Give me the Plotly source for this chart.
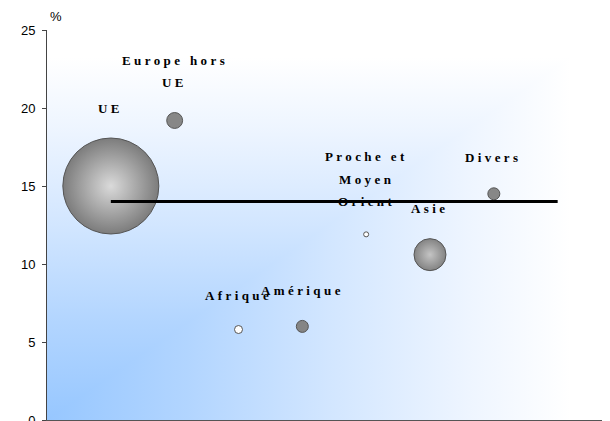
import base64
import plotly.graph_objects as go

# ---- data ----
categories = ["UE", "Europe hors UE", "Afrique", "Amérique",
              "Proche et Moyen Orient", "Asie", "Divers"]
label_text = ["UE", "Europe hors<br>UE", "Afrique", "Amérique",
              "Proche et<br>Moyen<br>Orient", "Asie", "Divers"]
growth = [15.0, 19.2, 5.8, 6.0, 11.9, 10.6, 14.5]      # % (y axis)
weight = [62.0, 1.7, 0.43, 0.97, 0.17, 6.9, 0.97]      # bubble size
average = 14.0                                          # horizontal line
y_ticks = [0, 5, 10, 15, 20, 25]

# ---- styles ----
fill_col = ["#7c7c7c", "#878787", "#ffffff", "#858585", "#ffffff", "#838383", "#878787"]
grad_type = ["radial", "none", "none", "none", "none", "radial", "none"]
grad_col = ["#dadada", "#878787", "#ffffff", "#858585", "#ffffff", "#c4c4c4", "#878787"]

x_pos = list(range(1, len(categories) + 1))
line_x = [1, len(categories) + 1]
max_r = 48.0
sizeref = max(weight) / (2 * max_r ** 2)
LINE_GAP = 22.5

fig = go.Figure()
fig.add_trace(go.Scatter(
    x=x_pos, y=growth, mode="markers", text=categories, hoverinfo="text+y",
    marker=dict(size=weight, sizemode="area", sizeref=sizeref, sizemin=0,
                color=fill_col,
                gradient=dict(type=grad_type, color=grad_col),
                line=dict(color="#555555", width=1), opacity=1),
    showlegend=False))
fig.add_trace(go.Scatter(
    x=line_x, y=[average, average], mode="lines",
    line=dict(color="black", width=3), hoverinfo="skip", showlegend=False))

for xi, yi, wi, lab in zip(x_pos, growth, weight, label_text):
    r = (wi / (2 * sizeref)) ** 0.5
    lines = lab.split("<br>")
    for k, ln in enumerate(reversed(lines)):
        fig.add_annotation(
            x=xi, y=yi, xref="x", yref="y", showarrow=False,
            text='<span style="letter-spacing:3.4px">' + ln + "</span>",
            font=dict(family="Liberation Serif", size=13, color="black", weight="bold"),
            xanchor="center", yanchor="middle", yshift=r + 30 + LINE_GAP * k,
            align="center")

fig.add_annotation(x=0, y=1, xref="paper", yref="paper", text="%",
                   showarrow=False, xanchor="left", yanchor="bottom",
                   yshift=4, xshift=1,
                   font=dict(family="Liberation Sans", size=13, color="black"))

stops = ('<stop offset="0" stop-color="#97c7ff"/>'
         '<stop offset="0.25" stop-color="#b2d5ff"/>'
         '<stop offset="0.5" stop-color="#d2e6ff"/>'
         '<stop offset="0.75" stop-color="#eef5ff"/>'
         '<stop offset="0.93" stop-color="#ffffff"/>')
svg = ('<svg xmlns="http://www.w3.org/2000/svg" width="100" height="100" '
       'viewBox="0 0 100 100" preserveAspectRatio="none"><defs>'
       '<linearGradient id="h" gradientUnits="userSpaceOnUse" x1="0" y1="0" x2="100" y2="0">'
       + stops + '</linearGradient>'
       '<linearGradient id="v" gradientUnits="userSpaceOnUse" x1="0" y1="100" x2="0" y2="0">'
       + stops + '</linearGradient></defs>'
       '<rect x="0" y="0" width="100" height="100" fill="url(#h)"/>'
       '<polygon points="0,100 0,0 100,0" fill="url(#v)"/></svg>')
src = "data:image/svg+xml;base64," + base64.b64encode(svg.encode()).decode()
fig.add_layout_image(dict(source=src, xref="paper", yref="paper", x=0, y=1,
                          sizex=1, sizey=1, sizing="stretch", layer="below",
                          xanchor="left", yanchor="top"))

fig.update_layout(
    width=602, height=413,
    margin=dict(l=39, r=0, t=22, b=1, autoexpand=False),
    paper_bgcolor="white", plot_bgcolor="rgba(0,0,0,0)",
    font=dict(family="Liberation Sans", size=13, color="black"),
    xaxis=dict(range=[0, 8.82], showgrid=False, zeroline=False, automargin=False,
               showticklabels=False, ticks="", showline=True,
               linecolor="#555555", linewidth=2),
    yaxis=dict(range=[0, 25], tickvals=y_ticks, showgrid=False, zeroline=False,
               automargin=False, ticklabeloverflow="allow",
               ticks="outside", ticklen=4, tickcolor="#444444",
               showline=True, linecolor="#444444", linewidth=1,
               tickfont=dict(family="Liberation Sans", size=13, color="black"),
               ticklabelstandoff=4),
)
fig.write_html("out.html")
